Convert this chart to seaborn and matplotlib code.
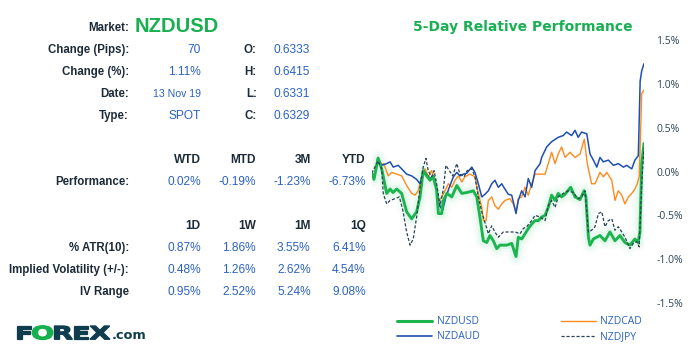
"""
NZDUSD market snapshot: quote table on the left, 5-day relative performance on the right.
"""

import matplotlib

matplotlib.use("Agg")
import matplotlib.pyplot as plt  # noqa: E402
import pandas as pd  # noqa: E402
import seaborn as sns  # noqa: E402
from matplotlib.font_manager import FontProperties  # noqa: E402
from matplotlib.lines import Line2D  # noqa: E402
from matplotlib.patches import PathPatch  # noqa: E402
from matplotlib.textpath import TextPath  # noqa: E402
from matplotlib.ticker import FuncFormatter  # noqa: E402
from matplotlib.transforms import Affine2D  # noqa: E402

# ---- table data ----
market = "NZDUSD"
quote_labels = ["Change (Pips):", "Change (%):", "Date:", "Type:"]
quote_values = ["70", "1.11%", "13 Nov 19", "SPOT"]
ohlc_labels = ["O:", "H:", "L:", "C:"]
ohlc_values = ["0.6333", "0.6415", "0.6331", "0.6329"]

perf_periods = ["WTD", "MTD", "3M", "YTD"]
perf_values = ["0.02%", "-0.19%", "-1.23%", "-6.73%"]

vol_periods = ["1D", "1W", "1M", "1Q"]
vol_rows = ["% ATR(10):", "Implied Volatility (+/-):", "IV Range"]
atr_values = ["0.87%", "1.86%", "3.55%", "6.41%"]
iv_values = ["0.48%", "1.26%", "2.62%", "4.54%"]
iv_range_values = ["0.95%", "2.52%", "5.24%", "9.08%"]

# ---- 5-day relative performance (hours since start, % change) ----
usd_hours = [0, 1, 2.8, 4.4, 6.6, 8.1, 9.4, 11, 13.2, 15.4, 17.6, 19.8, 21.3, 22.7, 24.2,
             25.7, 27.1, 28.6, 29.4, 30.8, 31.6, 33.1, 35.3, 37.5, 39.7, 41.9, 44.8, 46.3,
             47.7, 49.2, 50.7, 52.1, 53.6, 55.1, 56.5, 59.5, 61.7, 63.6, 64.6, 66.1, 67.6,
             69, 70.5, 72, 73.4, 74.9, 76.4, 77.8, 79.3, 80.8, 82.2, 83.7, 85.2, 87.7, 89.6,
             91.8, 93.6, 94.4, 95.5, 96.2, 97.7, 100.6, 102.8, 105, 107.2, 109.4, 111.6,
             113.8, 116, 117.4, 118.2, 119, 119.7, 120]
usd_pct = [-0.02, -0.09, 0.15, 0.03, -0.25, -0.2, -0.24, -0.2, -0.25, -0.46, -0.54, -0.46,
           -0.29, 0.01, -0.05, -0.1, -0.06, -0.21, -0.48, -0.48, -0.33, -0.25, -0.29, -0.16,
           -0.25, -0.24, -0.22, -0.29, -0.52, -0.79, -0.81, -0.73, -0.79, -0.88, -0.84,
           -0.84, -0.82, -0.97, -0.75, -0.77, -0.71, -0.65, -0.6, -0.56, -0.56, -0.52, -0.5,
           -0.41, -0.27, -0.33, -0.25, -0.29, -0.26, -0.18, -0.29, -0.32, -0.22, -0.29,
           -0.75, -0.84, -0.77, -0.73, -0.79, -0.69, -0.79, -0.73, -0.81, -0.84, -0.77,
           -0.81, -0.69, 0.09, 0.25, 0.32]

aud_hours = [0, 1, 2.8, 4.4, 6.6, 8.1, 9.5, 11.7, 13.2, 15.4, 17.6, 19.8, 21.3, 22.7, 24.2,
             25.7, 27.1, 28.3, 29.8, 31.3, 32.7, 34.5, 36, 37.5, 38.9, 40.4, 41.9, 44.1,
             45.5, 47, 48.5, 49.9, 51.4, 52.9, 54.3, 55.8, 57.3, 58.7, 60.2, 61.7, 63.6,
             64.6, 66.1, 67.6, 69, 70.5, 72, 74.2, 74.9, 77.1, 79.3, 82.2, 84.4, 85.9, 88.1,
             89.6, 91, 92.5, 94.8, 96.2, 97.7, 99.2, 100.6, 102.1, 104.3, 106.5, 108.7,
             110.9, 112.4, 114.6, 116, 117.5, 118.3, 119, 120]
aud_pct = [-0.02, -0.09, 0.16, 0.07, 0.09, 0.11, 0.05, 0.07, 0.03, -0.03, -0.05, -0.09,
           -0.14, 0.01, -0.03, -0.08, -0.05, -0.14, -0.39, -0.44, -0.29, -0.16, -0.06, -0.01,
           -0.05, -0.03, -0.02, 0.05, -0.01, -0.14, -0.29, -0.26, -0.22, -0.14, -0.1, -0.18,
           -0.14, -0.2, -0.26, -0.27, -0.48, -0.33, -0.22, -0.29, -0.08, -0.18, 0.01, 0.09,
           0.16, 0.28, 0.34, 0.39, 0.41, 0.45, 0.41, 0.47, 0.39, 0.45, 0.43, 0.2, 0.13, 0.05,
           0.16, 0.11, 0.13, 0.07, 0.09, 0.05, 0.07, 0.03, 0.13, 0.18, 1.03, 1.15, 1.23]

cad_hours = [0, 1, 2.8, 3.8, 5.3, 7.3, 8.8, 11, 13.2, 15.4, 17.6, 19.1, 20.5, 22, 23.5,
             24.9, 26.4, 27.9, 29.4, 30.8, 32.3, 33.8, 35.3, 36.7, 38.2, 39.7, 41.1, 43.3,
             45.5, 47, 48.5, 49.2, 50.4, 51.4, 52.9, 54.3, 55.8, 57.3, 58.7, 60.9, 62.4,
             63.6, 64.6, 66.1, 67.6, 69, 70.5, 72, 76.4, 77.8, 79.3, 80.8, 82.2, 83.7, 85.2,
             87.4, 89.6, 91.8, 93.7, 95, 96.9, 98.4, 100.6, 102.1, 103.6, 105.8, 107.2,
             108.7, 110.2, 111.6, 113.1, 114.6, 116, 117, 117.9, 119, 120]
cad_pct = [-0.02, -0.06, 0.16, 0.07, 0.09, -0.05, -0.01, -0.03, -0.05, -0.16, -0.25, -0.27,
           -0.22, -0.06, 0.03, -0.06, 0.01, -0.1, -0.35, -0.29, -0.22, -0.14, -0.18, -0.1,
           -0.05, -0.12, -0.06, -0.03, -0.06, -0.25, -0.41, -0.56, -0.56, -0.33, -0.29,
           -0.39, -0.43, -0.37, -0.33, -0.31, -0.37, -0.46, -0.31, -0.29, -0.18, -0.27,
           -0.14, -0.03, -0.03, 0.09, 0.22, 0.09, 0.2, 0.28, 0.16, 0.22, 0.16, 0.2, 0.37,
           0.09, -0.14, -0.14, -0.01, -0.06, -0.01, -0.1, -0.33, -0.22, -0.27, -0.37, -0.29,
           -0.25, -0.2, -0.14, -0.06, 0.89, 0.93]

jpy_hours = [0, 2.8, 4.4, 5.1, 6.6, 8.1, 10.3, 12.2, 13.7, 15.4, 16.9, 18.3, 19.8, 21.3,
             22.7, 23.9, 24.9, 26.4, 27.5, 28.6, 30.1, 31.6, 32.7, 34.2, 35.7, 37.5, 38.9,
             40.7, 42.1, 44.1, 45.5, 47, 48.5, 49.9, 51.4, 52.9, 54.3, 55.8, 58, 60.2, 63.2,
             65.4, 66.8, 68.3, 70.5, 72, 74.2, 76.4, 77.8, 79.3, 80.8, 82.2, 84.4, 86.6,
             88.8, 91, 92.5, 94, 95.5, 96.9, 98.4, 99.9, 101.4, 102.8, 104.3, 105.8, 107.2,
             108.7, 110.2, 111.6, 113.8, 115.3, 116.8, 117.9, 119, 120]
jpy_pct = [-0.02, 0.12, 0.03, -0.25, -0.37, -0.33, -0.31, -0.29, -0.44, -0.69, -0.84, -0.77,
           -0.52, -0.18, 0.05, 0.15, 0.01, -0.06, 0.01, -0.14, -0.39, -0.2, 0.07, 0.01,
           -0.05, 0.09, -0.03, -0.06, 0.01, 0.03, -0.06, -0.29, -0.46, -0.58, -0.71, -0.62,
           -0.69, -0.75, -0.69, -0.69, -0.69, -0.71, -0.65, -0.63, -0.56, -0.5, -0.52, -0.56,
           -0.39, -0.33, -0.41, -0.29, -0.25, -0.22, -0.24, -0.31, -0.29, -0.22, -0.69,
           -0.67, -0.63, -0.48, -0.46, -0.63, -0.56, -0.54, -0.67, -0.63, -0.69, -0.75,
           -0.88, -0.82, -0.8, -0.86, -0.14, 0.27]

pairs = ["NZDUSD", "NZDAUD", "NZDCAD", "NZDJPY"]
y_ticks = [-1.5, -1.0, -0.5, 0.0, 0.5, 1.0, 1.5]

DARK = "#1d2b39"
BLUE = "#2b62c4"
GREEN = "#17b04f"
LOGO_DARK = "#0f3d4d"
COLORS = {"NZDUSD": "#1cb44e", "NZDAUD": "#1f4fb2", "NZDCAD": "#ff8a1c", "NZDJPY": "#2a4252"}


def main():
    sns.set_theme(style="white")
    plt.rcParams["font.family"] = ["Liberation Sans", "DejaVu Sans"]

    W, H = 695, 358
    fig = plt.figure(figsize=(W / 100, H / 100), dpi=100)

    # full-figure layer in pixel coordinates for the table and logo
    bg = fig.add_axes([0, 0, 1, 1])
    bg.set_xlim(0, W)
    bg.set_ylim(H, 0)
    bg.axis("off")

    # ---- quote block ----
    bg.text(129, 30.7, "Market:", ha="right", va="baseline", fontsize=8.3,
            fontweight="bold", color=DARK)
    bg.text(135, 31.7, market, ha="left", va="baseline", fontsize=14.5,
            fontweight="bold", color=GREEN)
    row_base = [53.3, 75.3, 96.9, 119]
    for i, (lab, val) in enumerate(zip(quote_labels, quote_values)):
        bg.text(129, row_base[i], lab, ha="right", va="baseline", fontsize=8.3,
                fontweight="bold", color=DARK)
        bg.text(200.7, row_base[i], val, ha="right", va="baseline",
                fontsize=7.6 if lab == "Date:" else 8.6, color=BLUE)
        bg.text(256.7, row_base[i], ohlc_labels[i], ha="right", va="baseline",
                fontsize=8.3, fontweight="bold", color=DARK)
        bg.text(273.3, row_base[i], ohlc_values[i], ha="left", va="baseline",
                fontsize=8.6, color=BLUE)

    col_right = [200.7, 255.7, 310.7, 365.7]

    def grid_block(head_y, headers, rows):
        for x, h in zip(col_right, headers):
            bg.text(x, head_y, h, ha="right", va="baseline", fontsize=8.6,
                    fontweight="bold", color=DARK)
        for y, lab, vals in rows:
            bg.text(129, y, lab, ha="right", va="baseline", fontsize=8.3,
                    fontweight="bold", color=DARK)
            for x, v in zip(col_right, vals):
                bg.text(x, y, v, ha="right", va="baseline", fontsize=8.6, color=BLUE)

    grid_block(163.3, perf_periods, [(185, "Performance:", perf_values)])
    grid_block(229, vol_periods, [(250.7, vol_rows[0], atr_values),
                                  (272.7, vol_rows[1], iv_values),
                                  (295, vol_rows[2], iv_range_values)])

    # ---- logo ----
    fp = FontProperties(family="DejaVu Sans", weight="bold")
    x = 16.7
    for ch, col in zip("FOREX", [LOGO_DARK, GREEN, LOGO_DARK, LOGO_DARK, LOGO_DARK]):
        tp = TextPath((0, 0), ch, size=18.3, prop=fp)
        ext = tp.get_extents()
        tr = Affine2D().translate(-ext.x0, 0).scale(1.5, -1).translate(x, 339.3) + bg.transData
        bg.add_patch(PathPatch(tp, transform=tr, facecolor=col, edgecolor=col, lw=0.9))
        x += ext.width * 1.5 + 1.6
    bg.text(x, 339.3, ".com", ha="left", va="baseline", fontsize=9.3,
            fontweight="bold", color=LOGO_DARK, family="DejaVu Sans")

    # ---- performance chart ----
    left, right, top, bottom = 371.7, 644, 40, 303
    ax = fig.add_axes([left / W, 1 - bottom / H, (right - left) / W, (bottom - top) / H])
    ax.patch.set_alpha(0)

    usd = pd.DataFrame({"hours": usd_hours, "pct": usd_pct})
    aud = pd.DataFrame({"hours": aud_hours, "pct": aud_pct})
    cad = pd.DataFrame({"hours": cad_hours, "pct": cad_pct})
    jpy = pd.DataFrame({"hours": jpy_hours, "pct": jpy_pct})

    # soft halo under the NZDUSD line
    for lw, a in [(13, 0.025), (9.5, 0.04), (6, 0.07)]:
        sns.lineplot(data=usd, x="hours", y="pct", ax=ax, color="#45d27c",
                     linewidth=lw, alpha=a, solid_capstyle="round", solid_joinstyle="round")
    sns.lineplot(data=cad, x="hours", y="pct", ax=ax, color=COLORS["NZDCAD"], linewidth=1.0)
    sns.lineplot(data=aud, x="hours", y="pct", ax=ax, color=COLORS["NZDAUD"], linewidth=1.1)
    sns.lineplot(data=usd, x="hours", y="pct", ax=ax, color=COLORS["NZDUSD"], linewidth=2.1)
    sns.lineplot(data=jpy, x="hours", y="pct", ax=ax, color=COLORS["NZDJPY"], linewidth=0.9,
                 linestyle=(0, (2.5, 1.5)))

    ax.set_xlim(0, 120)
    ax.set_ylim(-1.5, 1.5)
    ax.set_xticks([])
    ax.set_yticks(y_ticks)
    ax.yaxis.tick_right()
    ax.yaxis.set_major_formatter(FuncFormatter(lambda v, _: f"{v:.1f}%"))
    ax.tick_params(axis="y", length=0, pad=9, labelsize=7.5, labelcolor="#2c4656")
    for t in ax.get_yticklabels():
        t.set_family(["Open Sans", "DejaVu Sans"])
    ax.set_xlabel("")
    ax.set_ylabel("")
    for s in ax.spines.values():
        s.set_visible(False)
    ax.grid(False)

    bg.text(522.5, 31, "5-Day Relative Performance", ha="center", va="baseline",
            fontsize=10, fontweight="bold", color="#1aaf54", family="DejaVu Sans")

    handles = [
        Line2D([], [], color=COLORS["NZDUSD"], linewidth=2.2),
        Line2D([], [], color=COLORS["NZDAUD"], linewidth=1.2),
        Line2D([], [], color=COLORS["NZDCAD"], linewidth=1.0),
        Line2D([], [], color=COLORS["NZDJPY"], linewidth=0.9, linestyle=(0, (2.5, 1.5))),
    ]
    leg = fig.legend(handles, [pairs[0], pairs[1], pairs[2], pairs[3]], loc="upper left",
                     bbox_to_anchor=(397 / W, 1 - 316.5 / H), ncol=2, frameon=False,
                     prop=FontProperties(family="Open Sans", size=7.5), handlelength=3.4,
                     handletextpad=0.4, columnspacing=7.8, labelspacing=0.35,
                     borderpad=0, borderaxespad=0)
    for t in leg.get_texts():
        t.set_color(BLUE)

    fig.savefig("out.png", dpi=100)
    plt.close(fig)


if __name__ == "__main__":
    main()
